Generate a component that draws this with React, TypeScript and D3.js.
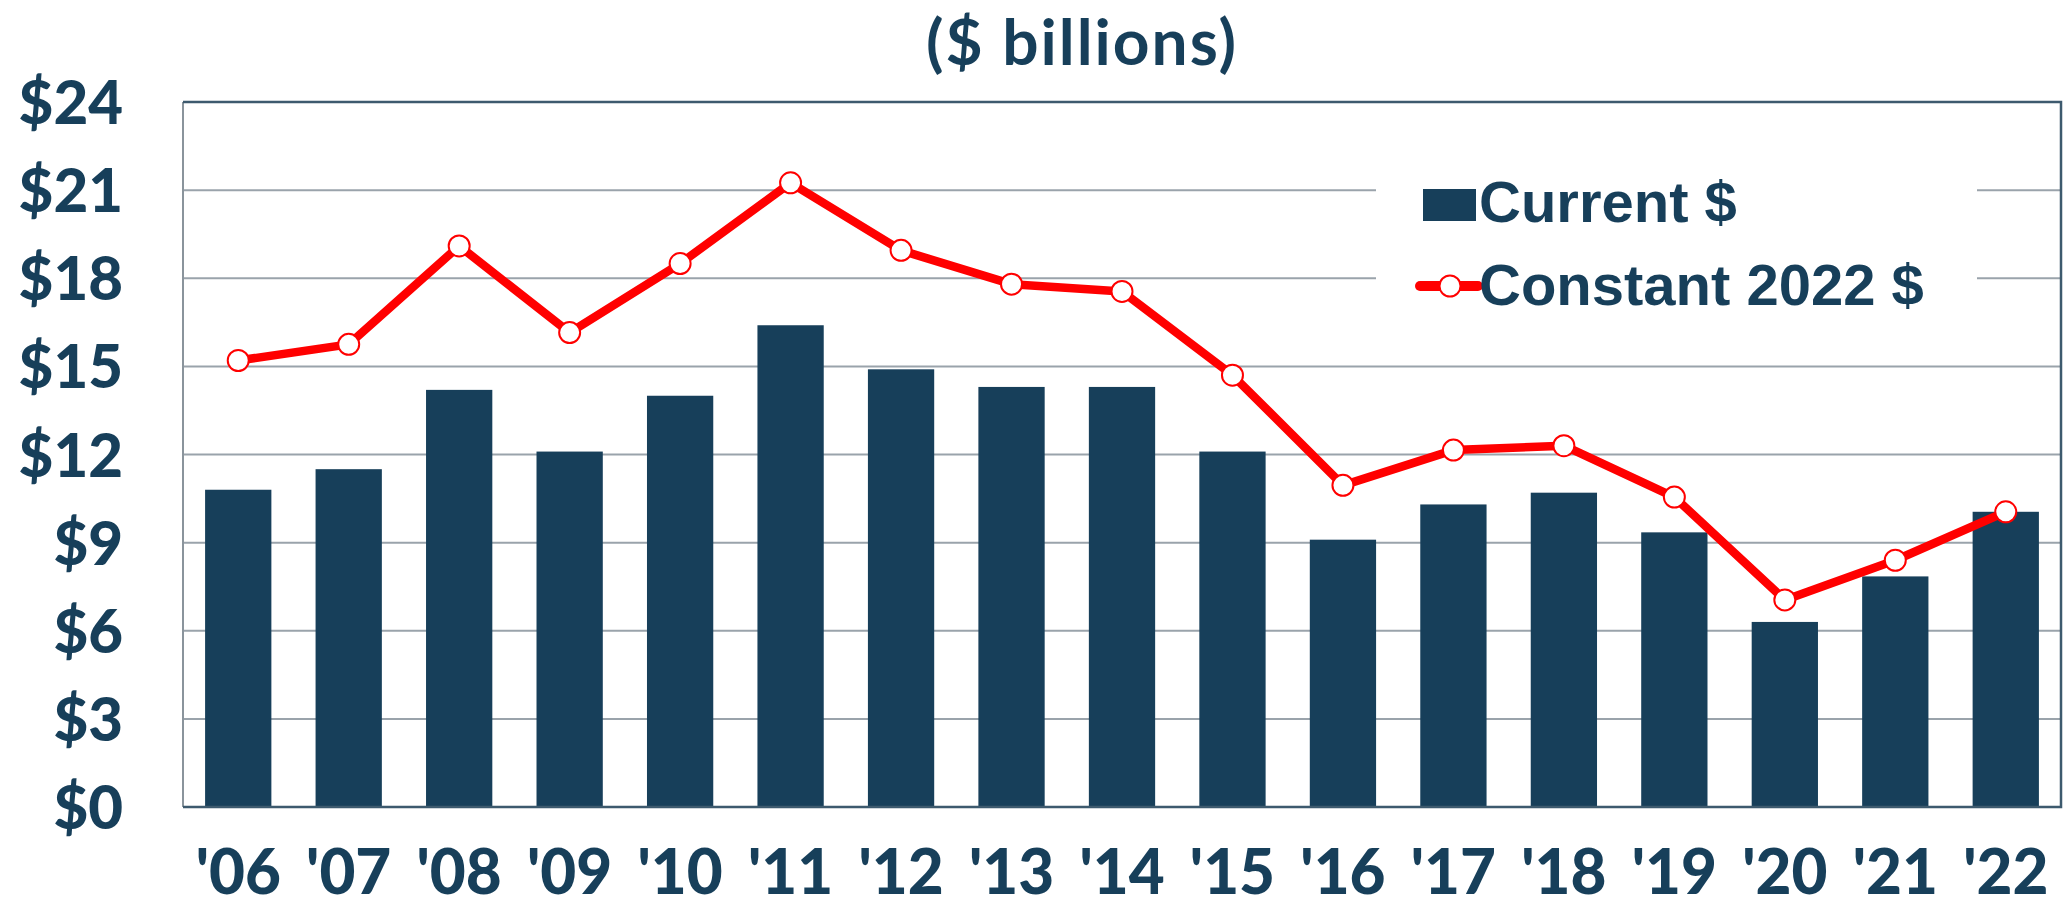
import { useEffect, useRef } from "react";
import * as d3 from "d3";

const years = ["'06", "'07", "'08", "'09", "'10", "'11", "'12", "'13", "'14", "'15", "'16", "'17", "'18", "'19", "'20", "'21", "'22"];
const currentDollars = [10.8, 11.5, 14.2, 12.1, 14.0, 16.4, 14.9, 14.3, 14.3, 12.1, 9.1, 10.3, 10.7, 9.35, 6.3, 7.85, 10.05];
const constantDollars = [15.2, 15.75, 19.1, 16.15, 18.5, 21.25, 18.95, 17.8, 17.55, 14.7, 10.95, 12.15, 12.3, 10.55, 7.05, 8.4, 10.05];
const yTicks = [0, 3, 6, 9, 12, 15, 18, 21, 24];
const legendLabels = ["Current $", "Constant 2022 $"];

const NAVY = "#173f5a";
const RED = "#ff0000";
const GRID = "#9aa3ab";

export default function App() {
  const svgRef = useRef<SVGSVGElement>(null);

  useEffect(() => {
    const svg = d3.select(svgRef.current);
    svg.selectAll("*").remove();

    const width = 2064;
    const height = 908;
    const plot = { left: 183, right: 2061, top: 102, bottom: 807 };

    const x = d3
      .scaleBand<string>()
      .domain(years)
      .range([plot.left, plot.right])
      .paddingInner(0.4)
      .paddingOuter(0.2);

    const y = d3.scaleLinear().domain([0, 24]).range([plot.bottom, plot.top]);

    svg.append("rect").attr("width", width).attr("height", height).attr("fill", "#fff");

    // gridlines
    svg
      .append("g")
      .selectAll("line")
      .data(yTicks.filter((t) => t > 0 && t < 24))
      .enter()
      .append("line")
      .attr("x1", plot.left)
      .attr("x2", plot.right)
      .attr("y1", (d) => y(d))
      .attr("y2", (d) => y(d))
      .attr("stroke", GRID)
      .attr("stroke-width", 2);

    // bars
    svg
      .append("g")
      .selectAll("rect")
      .data(currentDollars)
      .enter()
      .append("rect")
      .attr("x", (_, i) => x(years[i])!)
      .attr("width", x.bandwidth())
      .attr("y", (d) => y(d))
      .attr("height", (d) => y(0) - y(d))
      .attr("fill", NAVY);

    // plot frame
    svg
      .append("line")
      .attr("x1", plot.left).attr("x2", plot.left)
      .attr("y1", plot.top).attr("y2", plot.bottom)
      .attr("stroke", "#8a949c").attr("stroke-width", 2);
    svg
      .append("path")
      .attr("d", `M${plot.left},${plot.top}H${plot.right}V${plot.bottom}H${plot.left}`)
      .attr("fill", "none")
      .attr("stroke", "#3d5a6e")
      .attr("stroke-width", 2.5);

    // legend background (hides gridlines behind it)
    svg
      .append("rect")
      .attr("x", 1376)
      .attr("y", 150)
      .attr("width", 601)
      .attr("height", 185)
      .attr("fill", "#fff");

    // constant $ line
    const cx = (i: number) => x(years[i])! + x.bandwidth() / 2;
    const line = d3
      .line<number>()
      .x((_, i) => cx(i))
      .y((d) => y(d));

    svg
      .append("path")
      .datum(constantDollars)
      .attr("d", line)
      .attr("fill", "none")
      .attr("stroke", RED)
      .attr("stroke-width", 8.5)
      .attr("stroke-linejoin", "round");

    svg
      .append("g")
      .selectAll("circle")
      .data(constantDollars)
      .enter()
      .append("circle")
      .attr("cx", (_, i) => cx(i))
      .attr("cy", (d) => y(d))
      .attr("r", 10.5)
      .attr("fill", "#fff")
      .attr("stroke", RED)
      .attr("stroke-width", 2);

    // y axis labels
    svg
      .append("g")
      .selectAll("text")
      .data(yTicks)
      .enter()
      .append("text")
      .attr("x", 123)
      .attr("y", (d) => y(d) + 22)
      .attr("text-anchor", "end")
      .attr("font-family", "Lato, sans-serif")
      .attr("font-weight", 900)
      .attr("font-size", 60)
      .attr("fill", NAVY)
      .text((d) => `$${d}`);

    // x axis labels
    svg
      .append("g")
      .selectAll("text")
      .data(years)
      .enter()
      .append("text")
      .attr("x", (d) => x(d)! + x.bandwidth() / 2)
      .attr("y", 894)
      .attr("text-anchor", "middle")
      .attr("font-family", "Lato, sans-serif")
      .attr("font-weight", 900)
      .attr("font-size", 62)
      .attr("fill", NAVY)
      .text((d) => d);

    // title
    svg
      .append("text")
      .attr("x", 1082)
      .attr("y", 65)
      .attr("text-anchor", "middle")
      .attr("font-family", "Lato, sans-serif")
      .attr("font-weight", 700)
      .attr("font-size", 64)
      .attr("letter-spacing", 2)
      .attr("fill", NAVY)
      .text("($ billions)");

    // legend
    const legend = svg.append("g").attr("font-family", "'Liberation Sans', Arial, sans-serif").attr("font-weight", 700).attr("font-size", 58).attr("fill", NAVY);
    legend.append("rect").attr("x", 1423).attr("y", 189).attr("width", 53).attr("height", 32).attr("fill", NAVY);
    legend.append("text").attr("x", 1479).attr("y", 222).text(legendLabels[0]);
    legend.append("line").attr("x1", 1420).attr("x2", 1478).attr("y1", 286).attr("y2", 286).attr("stroke", RED).attr("stroke-width", 10).attr("stroke-linecap", "round");
    legend.append("circle").attr("cx", 1450).attr("cy", 286).attr("r", 10.5).attr("fill", "#fff").attr("stroke", RED).attr("stroke-width", 2);
    legend.append("text").attr("x", 1479).attr("y", 305).text(legendLabels[1]);
  }, []);

  return (
    <>
      <style>{"body{margin:0}"}</style>
      <svg ref={svgRef} width={2064} height={908} viewBox="0 0 2064 908" style={{ display: "block" }} />
    </>
  );
}
